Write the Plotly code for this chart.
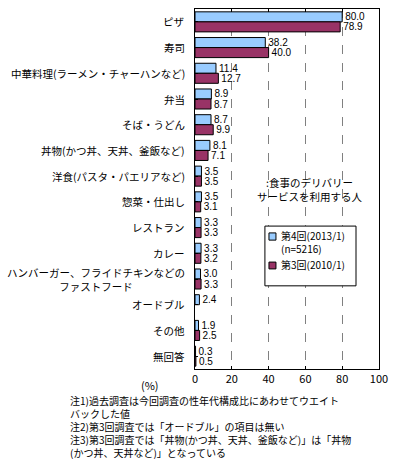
import plotly.graph_objects as go

categories = [
    "ピザ", "寿司", "中華料理(ラーメン・チャーハンなど)", "弁当", "そば・うどん",
    "丼物(かつ丼、天丼、釜飯など)", "洋食(パスタ・パエリアなど)", "惣菜・仕出し",
    "レストラン", "カレー", "ハンバーガー、フライドチキンなどの<br>ファストフード",
    "オードブル", "その他", "無回答",
]
wave4 = [80.0, 38.2, 11.4, 8.9, 8.7, 8.1, 3.5, 3.5, 3.3, 3.3, 3.0, 2.4, 1.9, 0.3]
wave3 = [78.9, 40.0, 12.7, 8.7, 9.9, 7.1, 3.5, 3.1, 3.3, 3.2, 3.3, None, 2.5, 0.5]
xticks = [0, 20, 40, 60, 80, 100]
series_names = ["第4回(2013/1)", "第3回(2010/1)"]
sample_note = "(n=5216)"
notes = [
    "注1)過去調査は今回調査の性年代構成比にあわせてウエイト",
    "バックした値",
    "注2)第3回調査では「オードブル」の項目は無い",
    "注3)第3回調査では「丼物(かつ丼、天丼、釜飯など)」は「丼物",
    "(かつ丼、天丼など)」となっている",
]
colors = ["#99CCFF", "#993366"]

FONT = "Noto Sans CJK JP"
NUMFONT = "Liberation Sans"
ids = list(range(len(categories)))

def fmt(v):
    return "" if v is None else f"{v:.1f}"

fig = go.Figure()
for name, vals, col in zip(series_names, [wave4, wave3], colors):
    fig.add_trace(go.Bar(
        y=ids, x=vals, orientation="h", name=name, showlegend=False,
        marker=dict(color=col, line=dict(color="black", width=1)),
        text=[fmt(v) for v in vals], textposition="outside",
        constraintext="none",
        textfont=dict(size=10, color="black", family=NUMFONT), cliponaxis=False,
    ))

annotations = []
for i, c in enumerate(categories):
    annotations.append(dict(
        x=0, xref="paper", y=i, yref="y", text=c, showarrow=False,
        xanchor="right", align="center", xshift=-8,
        font=dict(size=10.5, family=FONT, color="black"),
    ))
annotations.append(dict(
    x=-0.245, xref="paper", y=-0.045, yref="paper", text="(%)", showarrow=False,
    xanchor="center", yanchor="middle", font=dict(size=11, family=FONT, color="black"),
))
annotations.append(dict(
    x=0.625, xref="paper", y=0.5, yref="paper",
    text=":食事のデリバリー<br>サービスを利用する人", showarrow=False,
    xanchor="center", yanchor="middle", align="center",
    font=dict(size=10.5, family=FONT, color="black"),
))
annotations.append(dict(
    x=-0.69, xref="paper", y=-0.062, yref="paper", text="<br>".join(notes),
    showarrow=False, xanchor="left", yanchor="top", align="left",
    font=dict(size=10, family=FONT, color="black"),
))

# hand-built legend box (matches the compact original legend)
shapes = [
    dict(type="rect", xref="paper", yref="paper", x0=0.380, x1=0.875, y0=0.231, y1=0.397,
         line=dict(color="black", width=1), fillcolor="white", layer="above"),
    dict(type="rect", xref="paper", yref="paper", x0=0.402, x1=0.440, y0=0.358, y1=0.378,
         line=dict(color="black", width=1), fillcolor=colors[0], layer="above"),
    dict(type="rect", xref="paper", yref="paper", x0=0.402, x1=0.440, y0=0.278, y1=0.297,
         line=dict(color="black", width=1), fillcolor=colors[1], layer="above"),
]
for txt, yy in [(series_names[0] + "<br>" + sample_note, 0.352), (series_names[1], 0.289)]:
    annotations.append(dict(
        x=0.457, xref="paper", y=yy, yref="paper", text=txt, showarrow=False,
        xanchor="left", yanchor="middle", align="left",
        font=dict(size=10, family=FONT, color="black"),
    ))

fig.update_layout(
    width=396, height=475,
    margin=dict(l=195, r=17, t=9, b=106, autoexpand=False),
    paper_bgcolor="white", plot_bgcolor="white",
    barmode="group", bargap=0.22, bargroupgap=0,
    font=dict(family=FONT, size=11, color="black"),
    showlegend=False,
    annotations=annotations,
    shapes=shapes,
)
fig.update_xaxes(
    range=[0, 100], tickvals=xticks, ticktext=[str(t) for t in xticks],
    showgrid=True, gridcolor="#808080", griddash="dash", gridwidth=1,
    zeroline=False, showline=True, linecolor="black", linewidth=1, mirror="ticks",
    ticks="inside", ticklen=3, tickcolor="black", automargin=False,
    tickfont=dict(size=11, family=FONT),
)
fig.update_yaxes(
    range=[len(categories) - 0.5, -0.5], tickvals=ids, showticklabels=False,
    showgrid=False, zeroline=False, showline=True, linecolor="black", linewidth=1,
    mirror=True, ticks="inside", ticklen=3, tickson="boundaries", tickcolor="black",
    automargin=False,
)

fig.write_html(
    "out.html",
    config={"displayModeBar": False},
    post_script="document.body.style.margin='0px';document.body.style.overflow='hidden';",
)
